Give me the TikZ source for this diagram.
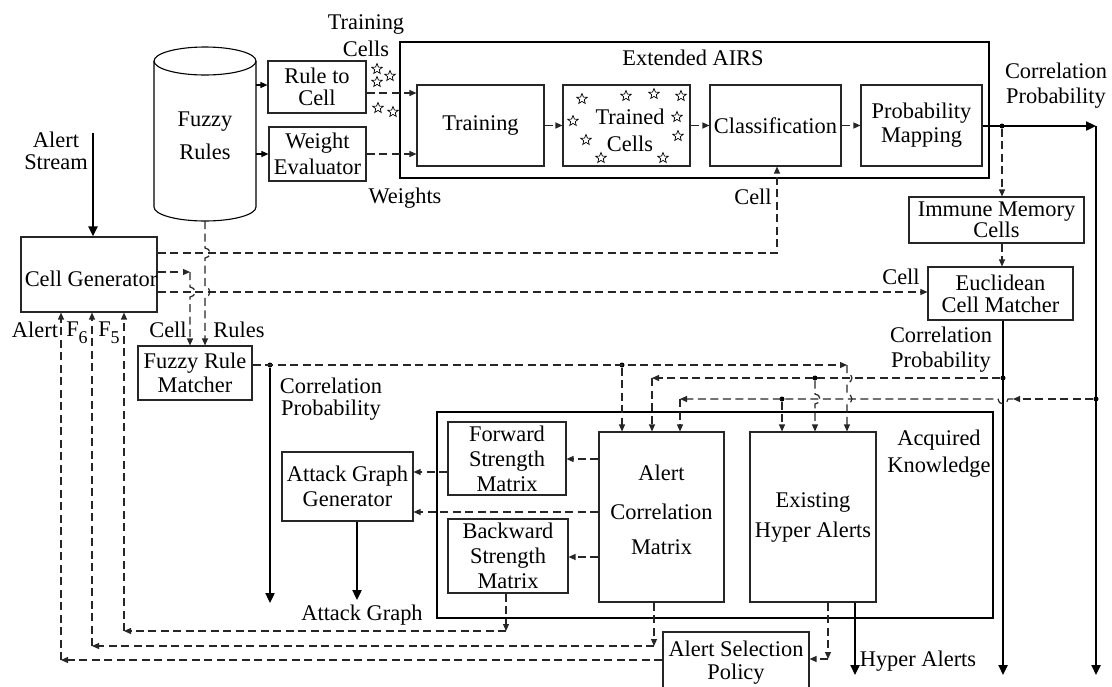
\documentclass[tikz,border=0pt]{standalone}
\usepackage{fontspec}
\setmainfont{Liberation Serif}
\usetikzlibrary{arrows.meta,shapes.geometric}
\begin{document}
\begin{tikzpicture}[x=1pt,y=-1pt,
  every node/.style={font=\fontsize{22.4}{25}\selectfont, inner sep=0pt},
  box/.style={draw=black!85, line width=1.1pt, align=center},
  obox/.style={draw=black, line width=1.7pt},
  lbl/.style={align=center},
  dl/.style={draw=black!85, line width=1.2pt, dash pattern=on 8pt off 4.5pt},
  sl/.style={draw=black, line width=1.1pt},
  tl/.style={draw=black, line width=2.3pt},
  ah/.style={-{Triangle[length=7pt,width=6pt]}},
  tah/.style={-{Triangle[length=10pt,width=9pt]}},
  jdot/.style={circle, fill=black, minimum size=5pt, inner sep=0pt},
  starn/.style={star, star points=5, star point ratio=2.3, draw, line width=0.7pt, minimum size=11pt, inner sep=0pt}
]
\useasboundingbox (0,0) rectangle (1112,686);
\clip (0,0) rectangle (1112,686);

% ---------- Fuzzy rules cylinder ----------
\draw[line width=1.1pt] (154,61) -- (154,207) arc[start angle=180,end angle=0,x radius=51,y radius=14] -- (256,61);
\draw[line width=1.1pt] (205,61) ellipse [x radius=51, y radius=14];
\node[lbl] (fr) at (205,136) {Fuzzy\\[8pt]Rules};
\coordinate (cylA) at (256,85);
\coordinate (cylB) at (256,154);
\coordinate (cylC) at (205,221);

% ---------- boxes ----------
\node[box, minimum width=98pt, minimum height=52pt] (r2c) at (317,87) {Rule to\\[-3pt]Cell};
\node[box, minimum width=97pt, minimum height=54pt] (we) at (317.5,154) {Weight\\[1pt]Evaluator};
\node[obox, minimum width=589pt, minimum height=136pt] (airs) at (694.5,110) {};
\node[lbl] (airsl) at (693,58) {Extended AIRS};
\node[box, minimum width=127pt, minimum height=81pt] (train) at (480.5,125.5) {Training};
\node[box, minimum width=127pt, minimum height=81pt] (tc) at (626.5,125.5) {};
\node[lbl] (tcl) at (630,130) {Trained\\[2pt]Cells};
\node[box, minimum width=131pt, minimum height=81pt] (cls) at (775.5,125.5) {Classification};
\node[box, minimum width=121pt, minimum height=81pt] (pm) at (921.5,125.5) {Probability\\[-1pt]Mapping};
\node[box, minimum width=175pt, minimum height=46pt] (imc) at (996.5,220) {Immune Memory\\[-4pt]Cells};
\node[box, minimum width=145pt, minimum height=53pt] (ecm) at (1000.5,293.5) {Euclidean\\[-3pt]Cell Matcher};
\node[box, minimum width=136pt, minimum height=75pt] (cg) at (89,274.5) {};
\node[lbl] (cgl) at (91,279) {Cell Generator};
\node[box, minimum width=114pt, minimum height=54pt] (frm) at (195,373) {Fuzzy Rule\\[-1pt]Matcher};
\node[obox, minimum width=556pt, minimum height=206pt] (ak) at (715,515) {};
\node[lbl] (akl) at (939,454) {Acquired\\[2pt]Knowledge};
\node[box, minimum width=118pt, minimum height=73pt] (fsm) at (507,458.5) {Forward\\Strength\\Matrix};
\node[box, minimum width=120pt, minimum height=74pt] (bsm) at (508,556) {Backward\\Strength\\Matrix};
\node[box, minimum width=131pt, minimum height=69pt] (agg) at (347.5,486.5) {Attack Graph\\Generator};
\node[box, minimum width=125pt, minimum height=170pt] (acm) at (661.5,517) {};
\node[lbl] (acml) at (661.5,510) {Alert\\[14pt]Correlation\\[10pt]Matrix};
\node[box, minimum width=126pt, minimum height=170pt] (eha) at (813,517) {Existing\\[5pt]Hyper Alerts};
\node[box, minimum width=146pt, minimum height=68pt] (asp) at (736,666) {};
\node[lbl] (aspl) at (736,663) {Alert Selection\\[-2pt]Policy};

% ---------- stars ----------
\foreach \p/\n in {{(377,69)}/s1,{(377,82)}/s2,{(390,76)}/s3,{(378,108)}/s4,{(393,112)}/s5,
  {(582,99)}/t1,{(626,96)}/t2,{(654,94)}/t3,{(681,96)}/t4,{(573,121)}/t5,{(677,117)}/t6,
  {(586,140)}/t7,{(678,136)}/t8,{(601,158)}/t9,{(663,158)}/t10}
  \node[starn] (\n) at \p {};

% ---------- free labels ----------
\node[lbl] (tcells) at (366,36) {Training\\[2pt]Cells};
\node[lbl] (wts) at (405,198) {Weights};
\node[lbl] (cellcls) at (753,197) {Cell};
\node[lbl] (cptr) at (1056,86) {Correlation\\Probability};
\node[lbl] (cellecm) at (901,277) {Cell};
\node[lbl] (cpecm) at (941,350) {Correlation\\Probability};
\node[lbl] (astream) at (56,151) {Alert\\[-3pt]Stream};
\node[lbl] (lalert) at (35,330) {Alert};
\node[lbl] (lf6) at (77,333) {F\raisebox{-7pt}{\fontsize{18}{18}\selectfont 6}};
\node[lbl] (lf5) at (109,333) {F\raisebox{-7pt}{\fontsize{18}{18}\selectfont 5}};
\node[lbl] (lcellfr) at (168,330) {Cell};
\node[lbl] (lrules) at (239,330) {Rules};
\node[lbl] (cpfr) at (331,399) {Correlation\\[-3pt]Probability};
\node[lbl] (lag) at (362,615) {Attack Graph};
\node[lbl] (lha) at (918,661) {Hyper Alerts};

% ---------- top connectors ----------
\draw[sl,ah] (cylA) -- (r2c.west |- cylA);
\draw[sl,ah] (cylB) -- (we.west |- cylB);
\draw[dl,ah] (r2c.east |- 0,93) -- (train.west |- 0,93);
\draw[dl,ah] (we.east |- 0,154) -- (train.west |- 0,154);
\draw[dl,ah] (train.east) -- (tc.west);
\draw[dl,ah] (tc.east) -- (cls.west);
\draw[dl,ah] (cls.east) -- (pm.west);

\node[jdot] (jPM) at (1002,126) {};
\coordinate (cTR) at (1096,126);
\coordinate (eR) at (1096,675);
\draw[tl,tah] (pm.east |- cTR) -- (cTR);
\draw[tl,tah] (cTR) -- (eR);
\draw[dl,ah] (jPM) -- (imc.north -| jPM);
\draw[dl,ah] (imc.south -| jPM) -- (ecm.north -| jPM);
\coordinate (eE) at (1003,675);
\draw[tl,tah] (ecm.south -| eE) -- (eE);

% alert stream
\coordinate (asTop) at (93,133);
\draw[tl,tah] (asTop) -- (cg.north -| asTop);

% cell generator outputs
\coordinate (cCls) at (777,253);
\draw[dl,ah] (cg.east |- cCls) -- (cCls) -- (cls.south -| cCls);
\coordinate (cFR) at (190,272);
\draw[dl,ah] (cg.east |- cFR) -- (cFR);
\draw[dl,ah] (cFR) -- (190,287) arc[start angle=-90,end angle=90,radius=5] -- (frm.north -| cFR);
\draw[dl,ah] (cg.east |- 0,292) -- (ecm.west |- 0,292);
\draw[dl,ah] (cylC) -- (205,248) arc[start angle=-90,end angle=90,radius=5] -- (205,287) arc[start angle=-90,end angle=90,radius=5] -- (frm.north -| cylC);

% fuzzy rule matcher output
\coordinate (cEH3) at (847,365);
\node[jdot] (jFR) at (270,365) {};
\node[jdot] (jAC1) at (622,365) {};
\coordinate (eFR) at (270,603);
\draw[dl,ah] (frm.east |- cEH3) -- (cEH3);
\draw[tl,tah] (jFR) -- (eFR);
\draw[dl,ah] (jAC1) -- (acm.north -| jAC1);
\draw[dl,ah] (cEH3) -- (847,373) arc[start angle=-90,end angle=90,radius=5] -- (847,394) arc[start angle=-90,end angle=90,radius=5] -- (eha.north -| cEH3);

% euclidean matcher output to knowledge
\node[jdot] (jEC1) at (1003,378) {};
\coordinate (cAC2) at (652,378);
\node[jdot] (jEH2) at (815,378) {};
\draw[dl,ah] (jEC1) -- (cAC2);
\draw[dl,ah] (cAC2) -- (acm.north -| cAC2);
\draw[dl,ah] (jEH2) -- (815,394) arc[start angle=-90,end angle=90,radius=5] -- (eha.north -| jEH2);

% airs output to knowledge
\node[jdot] (jR) at (1096,399) {};
\coordinate (cMid) at (1013,399);
\coordinate (cAC3) at (680,399);
\node[jdot] (jEH1) at (782,399) {};
\draw[dl,ah] (jR) -- (cMid);
\draw[dl,ah] (cMid) -- (1008,399) arc[start angle=0,end angle=180,radius=5] -- (cAC3);
\draw[dl,ah] (cAC3) -- (acm.north -| cAC3);
\draw[dl,ah] (jEH1) -- (eha.north -| jEH1);

% matrices
\draw[dl,ah] (acm.west |- 0,459) -- (fsm.east |- 0,459);
\draw[dl,ah] (fsm.west |- 0,472) -- (agg.east |- 0,472);
\draw[dl,ah] (acm.west |- 0,512) -- (agg.east |- 0,512);
\draw[dl,ah] (acm.west |- 0,557) -- (bsm.east |- 0,557);
\coordinate (eAG) at (357,600);
\draw[tl,tah] (agg.south -| eAG) -- (eAG);
\coordinate (eHA) at (855,675);
\draw[tl,tah] (eha.south -| eHA) -- (eHA);

% feedback loops
\coordinate (cB1) at (506,631);
\coordinate (cB2) at (124,631);
\draw[dl,ah] (bsm.south -| cB1) -- (cB1);
\draw[dl,ah] (cB1) -- (cB2);
\draw[dl,ah] (cB2) -- (cg.south -| cB2);
\coordinate (cA1) at (654,646);
\coordinate (cA2) at (92,646);
\draw[dl,ah] (acm.south -| cA1) -- (cA1);
\draw[dl,ah] (cA1) -- (cA2);
\draw[dl,ah] (cA2) -- (cg.south -| cA2);
\coordinate (cH1) at (828,659);
\draw[dl,ah] (eha.south -| cH1) -- (cH1);
\draw[dl,ah] (cH1) -- (asp.east |- cH1);
\coordinate (cS2) at (61,660);
\draw[dl,ah] (asp.west |- cS2) -- (cS2);
\draw[dl,ah] (cS2) -- (cg.south -| cS2);
\end{tikzpicture}
\end{document}
